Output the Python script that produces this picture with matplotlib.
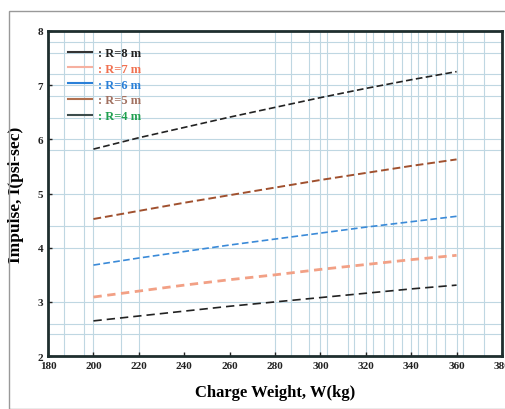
import matplotlib.pyplot as plt
from matplotlib.lines import Line2D
from matplotlib.patches import Rectangle

# charge weight (kg)
weight = [200, 220, 240, 260, 280, 300, 320, 340, 360]

# impulse (psi-sec)
imp_r8 = [5.82, 6.03, 6.22, 6.41, 6.59, 6.77, 6.94, 7.10, 7.25]
imp_r5 = [4.53, 4.68, 4.83, 4.97, 5.11, 5.25, 5.38, 5.51, 5.63]
imp_r6 = [3.68, 3.81, 3.93, 4.05, 4.16, 4.27, 4.38, 4.48, 4.58]
imp_r7 = [3.09, 3.20, 3.31, 3.41, 3.50, 3.60, 3.69, 3.78, 3.86]
imp_r4 = [2.65, 2.74, 2.83, 2.92, 3.00, 3.08, 3.16, 3.24, 3.31]

legend_labels = [": R=8 m", ": R=7 m", ": R=6 m", ": R=5 m", ": R=4 m"]
legend_line_colors = ["#333333", "#f6b0a0", "#2a80d8", "#b0704f", "#3c4c4c"]
legend_text_colors = ["#222222", "#f07050", "#2a80d8", "#a07060", "#20a050"]

xticks = [180, 200, 220, 240, 260, 280, 300, 320, 340, 360, 380]
yticks = [2, 3, 4, 5, 6, 7, 8]
# odd "graph paper" style grid of the original
vgrid = [187, 196, 200, 212, 220, 280, 287, 295, 300, 303, 312, 315, 320,
         323, 328, 332, 336, 340, 343, 347, 351, 355, 360, 363, 372]
hgrid = [2.4, 2.6, 3, 4, 4.4, 5, 5.8, 6, 6.4, 6.8, 7, 7.2, 7.6, 7.8]

plt.rcParams['font.family'] = ['Liberation Serif', 'DejaVu Serif']

fig = plt.figure(figsize=(5.06, 4.10), dpi=100)
ax = fig.add_axes([0.095, 0.129, 0.897, 0.793])

fig.patches.append(Rectangle((9 / 506, 0), 1.0, 1 - 12 / 410, transform=fig.transFigure,
                             fill=False, edgecolor="#999999", linewidth=1.0))

for xv in vgrid:
    ax.axvline(xv, color="#bfd7e2", linewidth=0.8, zorder=0)
for yv in hgrid:
    ax.axhline(yv, color="#bfd7e2", linewidth=0.8, zorder=0)

ax.plot(weight, imp_r8, color="#222222", linewidth=1.2, dashes=(4, 2))
ax.plot(weight, imp_r5, color="#a0502e", linewidth=1.4, dashes=(4, 2))
ax.plot(weight, imp_r6, color="#3a8ad8", linewidth=1.2, dashes=(4, 2))
ax.plot(weight, imp_r7, color="#f2a085", linewidth=2.0, dashes=(3, 2))
ax.plot(weight, imp_r4, color="#222222", linewidth=1.2, dashes=(5, 3))

handles = [Line2D([], [], color=c, linewidth=1.5) for c in legend_line_colors]
leg = ax.legend(handles, legend_labels, loc="upper left", bbox_to_anchor=(0.02, 0.985),
                frameon=False, handlelength=1.9, handletextpad=0.5, labelspacing=0.3,
                prop={"family": "Liberation Serif", "weight": "bold", "size": 9})
for txt, col in zip(leg.get_texts(), legend_text_colors):
    txt.set_color(col)

ax.set_xlim(180, 380)
ax.set_ylim(2, 8)
ax.set_xticks(xticks)
ax.set_yticks(yticks)
ax.tick_params(direction="in", length=3, width=1, labelsize=8, colors="#222222")
for lab in ax.get_xticklabels() + ax.get_yticklabels():
    lab.set_fontweight("bold")

for sp in ax.spines.values():
    sp.set_linewidth(2)
    sp.set_color("#1e2e2e")

ax.set_xlabel("Charge Weight, W(kg)", fontsize=12, fontweight="bold", labelpad=10)
ax.set_ylabel("Impulse, I(psi-sec)", fontsize=12.5, fontweight="bold", labelpad=10)

fig.savefig("out.png", dpi=100)
